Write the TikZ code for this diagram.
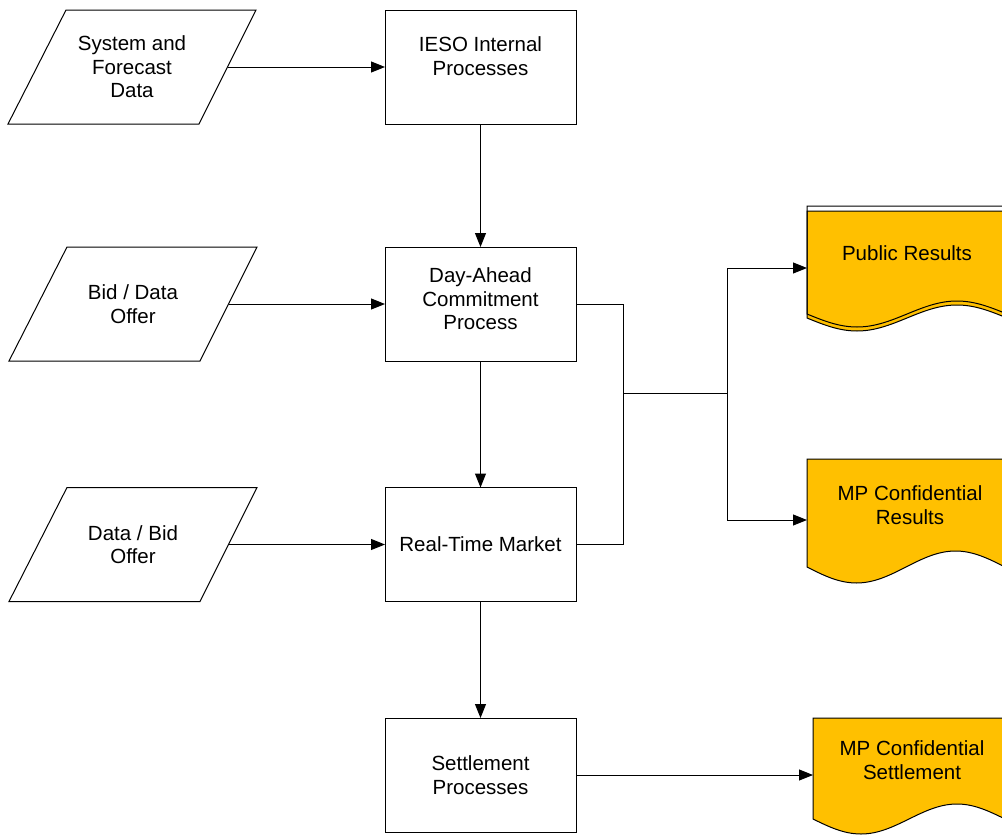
\documentclass[tikz,border=0pt]{standalone}
\usepackage{fontspec}
\setmainfont{Liberation Sans}
\usetikzlibrary{arrows.meta}
\definecolor{gold}{HTML}{FFC000}
\newcommand\mydoc[5]{(#1,#2) -- (#1,#3) sin (#1+#4/4,#3+#5) cos (#1+#4/2,#3) sin (#1+3*#4/4,#3-#5) cos (#1+#4,#3) -- (#1+#4,#2) -- cycle}
\newcommand\mypara[2]{(#1-66,#2-57) -- (#1+124,#2-57) -- (#1+67,#2+57) -- (#1-124,#2+57) -- cycle}
\begin{document}
\begin{tikzpicture}[x=1pt,y=-1pt,
  every node/.style={font=\fontsize{20.5}{23.5}\selectfont, align=center},
  box/.style={draw, line width=1pt, minimum width=191pt, minimum height=114pt, inner sep=0pt, outer sep=0pt},
  paraline/.style={draw, line width=1pt},
  conn/.style={line width=1pt},
  arr/.style={conn, -{Triangle[length=14pt,width=11pt]}},
  doc/.style={draw, line width=1pt, fill=gold}]
\useasboundingbox (0,0) rectangle (1002,835);
\begin{scope}
\clip (0,0) rectangle (1002,835);
\draw[doc] \mydoc{807}{211}{318}{200}{13};
\draw[line width=1pt] \mydoc{807}{206}{314}{200}{13};
\draw[doc] \mydoc{807}{459}{567}{198}{16};
\draw[doc] \mydoc{813}{718}{819}{192}{15};
\end{scope}
\node (d1) at (907,253) {Public Results};
\node (d2) at (910,505) {MP Confidential\\Results};
\node (d3) at (912,760) {MP Confidential\\Settlement};
\coordinate (d1w) at (807,268);
\coordinate (d2w) at (807,520);
\coordinate (d3w) at (813,775);
\draw[paraline] \mypara{132}{67};
\draw[paraline] \mypara{133}{304};
\draw[paraline] \mypara{133}{544.5};
\node (p1) at (132,67) {System and\\Forecast\\Data};
\node (p2) at (133,304) {Bid / Data\\Offer};
\node (p3) at (133,544.5) {Data / Bid\\Offer};
\coordinate (p1r) at (227.5,67);
\coordinate (p2r) at (228.5,304);
\coordinate (p3r) at (228.5,544.5);
\node[box] (b1) at (480.5,67) {};
\node (t1) at (480.5,56) {IESO Internal\\Processes};
\node[box] (b2) at (480.5,304) {};
\node (t2) at (480.5,299) {Day-Ahead\\Commitment\\Process};
\node[box] (b3) at (480.5,544.5) {Real-Time Market};
\node[box] (b4) at (480.5,775) {Settlement\\Processes};
\coordinate (j1) at (623,393);
\coordinate (j2) at (727,393);
\draw[arr] (p1r) -- (b1.west);
\draw[arr] (p2r) -- (b2.west);
\draw[arr] (p3r) -- (b3.west);
\draw[arr] (b1.south) -- (b2.north);
\draw[arr] (b2.south) -- (b3.north);
\draw[arr] (b3.south) -- (b4.north);
\draw[conn] (b2.east) -| (j1) -- (j2);
\draw[conn] (b3.east) -| (j1);
\draw[arr] (j2) |- (d1w);
\draw[arr] (j2) |- (d2w);
\draw[arr] (b4.east) -- (d3w);
\end{tikzpicture}
\end{document}
